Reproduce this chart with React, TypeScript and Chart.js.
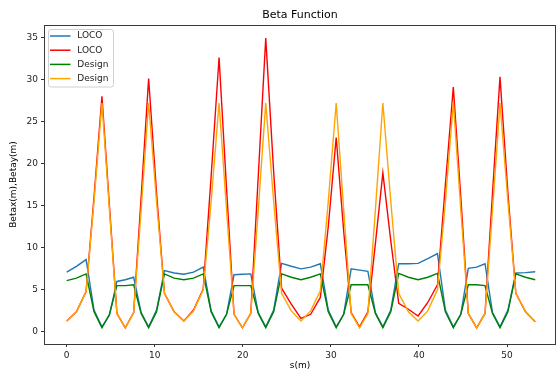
import React, { useEffect, useRef } from "react";
import { Chart, registerables } from "chart.js";

Chart.register(...registerables);

// s positions (m)
const sPos = [
  0, 1.1, 2.2, 3.1, 4.0, 4.85, 5.7, 6.65, 7.6, 8.45, 9.3, 10.2, 11.1, 12.2,
  13.3, 14.4, 15.5, 16.4, 17.3, 18.15, 19.0, 19.95, 20.9, 21.75, 22.6, 23.5, 24.4, 25.5,
  26.6, 27.7, 28.8, 29.7, 30.6, 31.45, 32.3, 33.25, 34.2, 35.05, 35.9, 36.8, 37.7, 38.8,
  39.9, 41.0, 42.1, 43.0, 43.9, 44.75, 45.6, 46.55, 47.5, 48.35, 49.2, 50.1, 51.0, 52.1,
  53.2,
];

// LOCO (blue)
const betaxLoco = [
  7.1, 7.8, 8.6, 2.6, 0.6, 2.0, 6.0, 6.2, 6.5, 2.3, 0.6, 2.6, 7.3, 7.0,
  6.85, 7.1, 7.7, 2.5, 0.6, 2.1, 6.8, 6.85, 6.9, 2.3, 0.6, 2.6, 8.15, 7.8,
  7.5, 7.7, 8.1, 2.6, 0.6, 2.1, 7.5, 7.35, 7.2, 2.3, 0.6, 2.6, 8.1, 8.1,
  8.15, 8.7, 9.3, 2.6, 0.6, 2.1, 7.55, 7.7, 8.1, 2.3, 0.6, 2.6, 7.0, 7.05,
  7.15,
];

// LOCO (red)
const betayLoco = [
  1.3, 2.4, 4.8, 16.0, 28.0, 15.0, 2.2, 0.5, 2.3, 16.0, 30.1, 16.5, 4.6, 2.4,
  1.3, 2.6, 5.1, 18.5, 32.6, 17.0, 2.1, 0.5, 2.2, 18.5, 34.9, 19.0, 5.2, 3.3,
  1.6, 2.1, 4.1, 12.5, 23.1, 12.0, 2.3, 0.6, 2.4, 10.5, 18.9, 10.8, 3.4, 2.7,
  1.9, 3.5, 5.6, 17.5, 29.1, 16.0, 2.2, 0.5, 2.2, 16.5, 30.3, 16.5, 4.6, 2.4,
  1.2,
];

// Design (green)
const betaxDesign = [
  6.1, 6.4, 6.9, 2.4, 0.5, 2.1, 5.5, 5.5, 5.6, 2.2, 0.5, 2.4, 6.9, 6.4,
  6.2, 6.4, 6.9, 2.4, 0.5, 2.1, 5.5, 5.5, 5.5, 2.2, 0.5, 2.4, 6.9, 6.5,
  6.2, 6.5, 6.9, 2.4, 0.5, 2.1, 5.6, 5.6, 5.6, 2.2, 0.5, 2.4, 6.95, 6.5,
  6.2, 6.5, 6.95, 2.4, 0.5, 2.1, 5.6, 5.6, 5.5, 2.2, 0.5, 2.4, 6.9, 6.5,
  6.2,
];

// Design (orange)
const betayDesign = [
  1.3, 2.4, 4.8, 15.5, 27.2, 14.5, 2.2, 0.5, 2.3, 14.5, 27.2, 15.5, 4.6, 2.4,
  1.3, 2.5, 5.0, 15.5, 27.2, 14.5, 2.1, 0.5, 2.2, 14.5, 27.2, 15.5, 4.6, 2.5,
  1.3, 2.5, 4.9, 15.5, 27.2, 14.5, 2.2, 0.5, 2.2, 14.5, 27.2, 15.5, 4.6, 2.4,
  1.3, 2.5, 5.0, 15.5, 27.3, 14.5, 2.2, 0.5, 2.2, 14.5, 27.2, 15.5, 4.6, 2.4,
  1.2,
];

const xTicks = [0, 10, 20, 30, 40, 50];
const yTicks = [0, 5, 10, 15, 20, 25, 30, 35];
const seriesNames = ["LOCO", "LOCO", "Design", "Design"];
const seriesColors = ["#1f77b4", "#ff0000", "#008000", "#ffa500"];
const titleText = "Beta Function";
const xLabel = "s(m)";
const yLabel = "Betax(m),Betay(m)";

const W = 559;
const H = 373;
const FONT = "'DejaVu Sans', sans-serif";

const decor = {
  id: "decor",
  afterDraw(chart: any) {
    const { ctx, chartArea: a } = chart;
    ctx.save();
    // spines
    ctx.strokeStyle = "#3a3a3a";
    ctx.lineWidth = 1;
    ctx.strokeRect(Math.round(a.left) + 0.5, Math.round(a.top) + 0.5,
      Math.round(a.right - a.left) - 1, Math.round(a.bottom - a.top));
    // title
    ctx.fillStyle = "#000";
    ctx.textAlign = "center";
    ctx.textBaseline = "middle";
    ctx.font = `11px ${FONT}`;
    ctx.fillText(titleText, (a.left + a.right) / 2, 15);
    // x label
    ctx.font = `9px ${FONT}`;
    ctx.fillText(xLabel, (a.left + a.right) / 2, 366);
    // y label
    ctx.save();
    ctx.translate(14, (a.top + a.bottom) / 2);
    ctx.rotate(-Math.PI / 2);
    ctx.fillText(yLabel, 0, 0);
    ctx.restore();
    // legend
    const bx = a.left + 4.5, by = a.top + 4.5, bw = 65, bh = 57.5, r = 2.5;
    ctx.beginPath();
    ctx.moveTo(bx + r, by);
    ctx.lineTo(bx + bw - r, by);
    ctx.quadraticCurveTo(bx + bw, by, bx + bw, by + r);
    ctx.lineTo(bx + bw, by + bh - r);
    ctx.quadraticCurveTo(bx + bw, by + bh, bx + bw - r, by + bh);
    ctx.lineTo(bx + r, by + bh);
    ctx.quadraticCurveTo(bx, by + bh, bx, by + bh - r);
    ctx.lineTo(bx, by + r);
    ctx.quadraticCurveTo(bx, by, bx + r, by);
    ctx.closePath();
    ctx.fillStyle = "rgba(255,255,255,0.8)";
    ctx.fill();
    ctx.strokeStyle = "#d0d0d0";
    ctx.stroke();
    ctx.textAlign = "left";
    ctx.font = `9px ${FONT}`;
    for (let i = 0; i < seriesNames.length; i++) {
      const yy = a.top + 11 + i * 14.2;
      ctx.strokeStyle = seriesColors[i];
      ctx.lineWidth = 1.5;
      ctx.beginPath();
      ctx.moveTo(a.left + 6, yy);
      ctx.lineTo(a.left + 26.5, yy);
      ctx.stroke();
      ctx.fillStyle = "#222";
      ctx.fillText(seriesNames[i], a.left + 33.3, yy);
    }
    ctx.restore();
  },
};

export default function App() {
  const ref = useRef<HTMLCanvasElement>(null);
  useEffect(() => {
    if (!ref.current) return;
    const mk = (ys: number[]) => sPos.map((s, i) => ({ x: s, y: ys[i] }));
    const allSeries = [betaxLoco, betayLoco, betaxDesign, betayDesign];
    const orders = [3, 2, 1, 0];
    const chart = new Chart(ref.current, {
      type: "line",
      data: {
        datasets: allSeries.map((ys, i) => ({
          label: seriesNames[i],
          data: mk(ys),
          borderColor: seriesColors[i],
          backgroundColor: seriesColors[i],
          borderWidth: 1.4,
          pointRadius: 0,
          tension: 0,
          fill: false,
          order: orders[i],
        })),
      },
      options: {
        responsive: false,
        animation: false,
        devicePixelRatio: 1,
        layout: { padding: { left: 0, top: 25, right: 3, bottom: 0 } },
        plugins: { legend: { display: false }, title: { display: false }, tooltip: { enabled: false } },
        scales: {
          x: {
            type: "linear",
            min: -2.58,
            max: 55.56,
            afterFit: (s: any) => { s.height = 29; },
            afterBuildTicks: (s: any) => { s.ticks = xTicks.map((v) => ({ value: v })); },
            grid: { display: true, drawOnChartArea: false, drawTicks: true, tickLength: 3, tickColor: "#333", color: "#333" },
            border: { display: false },
            ticks: { font: { size: 9, family: FONT }, color: "#222", padding: 3, maxRotation: 0, autoSkip: false },
          },
          y: {
            type: "linear",
            min: -1.43,
            max: 36.46,
            afterFit: (s: any) => { s.width = 44; },
            afterBuildTicks: (s: any) => { s.ticks = yTicks.map((v) => ({ value: v })); },
            grid: { display: true, drawOnChartArea: false, drawTicks: true, tickLength: 3, tickColor: "#333", color: "#333" },
            border: { display: false },
            ticks: { font: { size: 9, family: FONT }, color: "#222", padding: 3, autoSkip: false },
          },
        },
      },
      plugins: [decor],
    });
    return () => chart.destroy();
  }, []);
  return (
    <div style={{ position: "absolute", left: 0, top: 0, width: W, height: H, background: "#fff" }}>
      <canvas ref={ref} width={W} height={H} style={{ display: "block", width: W, height: H }} />
    </div>
  );
}
